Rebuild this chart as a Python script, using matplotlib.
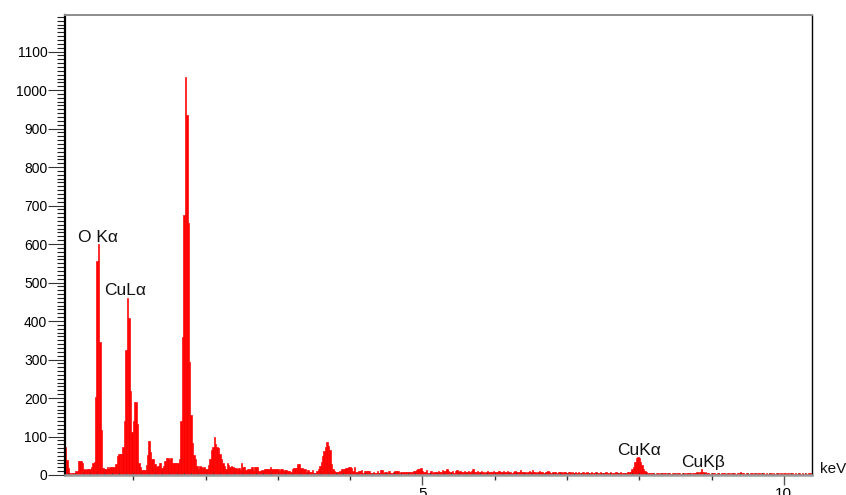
import numpy as np
import matplotlib
matplotlib.use("Agg")
import matplotlib.pyplot as plt
from matplotlib.ticker import MultipleLocator, FixedLocator, NullFormatter

plt.rcParams['font.family'] = ['Liberation Sans', 'DejaVu Sans']

# EDS spectrum, 0.02 keV channels starting at 0.06 keV (counts)
start_kev = 0.06
step_kev = 0.02

counts_0 = [74, 40, 17, 5, 4, 5, 6, 10, 11, 37,
            37, 36, 30, 15, 14, 15, 16, 16, 20, 32,
            33, 203, 556, 599, 346, 117, 17, 15, 15, 20,
            15, 20, 20, 20, 20, 29, 49, 55, 55, 55,
            74, 139, 325, 460, 407, 218, 113, 139, 189, 189]
counts_1 = [132, 32, 20, 13, 13, 13, 26, 52, 88, 60,
            41, 41, 29, 20, 23, 30, 30, 17, 23, 36,
            43, 43, 39, 43, 32, 30, 30, 30, 30, 41,
            139, 359, 675, 1035, 935, 655, 294, 156, 82, 52,
            41, 23, 15, 23, 20, 17, 20, 15, 15, 26]
counts_2 = [41, 65, 74, 98, 80, 74, 69, 55, 41, 32,
            23, 15, 30, 25, 20, 23, 20, 17, 17, 15,
            17, 13, 32, 20, 20, 13, 16, 16, 16, 20,
            11, 20, 20, 20, 11, 11, 13, 13, 15, 15,
            15, 15, 20, 15, 15, 15, 15, 15, 10, 15]
counts_3 = [15, 11, 13, 13, 11, 11, 9, 15, 17, 17,
            17, 29, 29, 17, 17, 15, 15, 9, 13, 9,
            9, 13, 6, 6, 11, 15, 23, 35, 49, 62,
            74, 86, 75, 65, 29, 15, 11, 9, 9, 9,
            11, 15, 15, 16, 18, 18, 20, 20, 18, 11]
counts_4 = [20, 9, 9, 11, 11, 13, 6, 10, 10, 10,
            10, 6, 6, 9, 6, 6, 11, 6, 13, 13,
            6, 9, 9, 6, 11, 6, 6, 9, 10, 10,
            10, 6, 9, 9, 9, 9, 9, 9, 9, 9,
            9, 10, 10, 13, 15, 15, 19, 11, 9, 9]
counts_5 = [13, 6, 6, 11, 6, 9, 9, 9, 11, 9,
            9, 13, 11, 11, 15, 11, 9, 9, 11, 6,
            11, 13, 8, 10, 9, 7, 11, 9, 8, 10,
            9, 11, 15, 9, 7, 10, 8, 9, 11, 8,
            6, 9, 10, 7, 9, 8, 11, 7, 9, 8]
counts_6 = [10, 7, 8, 11, 9, 7, 10, 8, 9, 6,
            8, 10, 7, 9, 8, 12, 7, 9, 8, 6,
            9, 10, 8, 13, 7, 9, 6, 8, 10, 7,
            9, 6, 8, 7, 10, 8, 6, 9, 7, 8,
            6, 9, 7, 8, 6, 9, 7, 6, 8, 7]
counts_7 = [6, 8, 5, 7, 6, 8, 5, 6, 7, 5,
            6, 8, 5, 6, 7, 5, 6, 9, 6, 5,
            7, 6, 5, 6, 7, 5, 6, 8, 5, 6,
            5, 7, 6, 5, 7, 6, 6, 6, 6, 8,
            9, 9, 15, 22, 35, 43, 48, 43, 35, 26]
counts_8 = [15, 11, 8, 6, 5, 4, 5, 4, 3, 5,
            4, 3, 5, 4, 6, 4, 3, 5, 4, 3,
            4, 5, 3, 4, 6, 4, 3, 5, 4, 3,
            4, 5, 4, 3, 4, 6, 5, 9, 6, 8,
            15, 7, 5, 9, 4, 5, 3, 4, 5, 4]
counts_9 = [3, 5, 4, 3, 4, 5, 4, 3, 5, 4,
            3, 4, 6, 4, 3, 5, 4, 7, 5, 4,
            3, 4, 5, 3, 4, 5, 3, 4, 3, 5,
            4, 3, 4, 5, 3, 4, 3, 5, 4, 3,
            4, 3, 5, 4, 3, 4, 3, 5, 4, 3]
counts_10 = [4, 3, 5, 4, 3, 4, 3, 4, 5, 3, 4, 3, 4, 3, 5, 4, 3]

peak_labels = ["O K\u03b1", "CuL\u03b1", "CuK\u03b1", "CuK\u03b2"]
label_kev = [0.235, 0.60, 7.70, 8.58]
label_counts = [605, 468, 52, 21]

counts = np.array(counts_0 + counts_1 + counts_2 + counts_3 + counts_4 + counts_5
                  + counts_6 + counts_7 + counts_8 + counts_9 + counts_10)
energy = start_kev + step_kev * np.arange(len(counts))

fig = plt.figure(figsize=(8.46, 4.95), dpi=100)
ax = fig.add_axes([65 / 846, 20 / 495, 747 / 846, 460 / 495])

ax.bar(energy, counts, width=step_kev, color='#ff0000', edgecolor='#ff0000',
       linewidth=0.45, align='center')

ax.set_xlim(0.055, 10.39)
ax.set_ylim(0, 1195)

# spines
ax.spines['left'].set_color('#000000')
ax.spines['left'].set_linewidth(1.6)
ax.spines['right'].set_color('#000000')
ax.spines['right'].set_linewidth(1.0)
ax.spines['top'].set_color('#8c8c8c')
ax.spines['top'].set_linewidth(1.4)
ax.spines['bottom'].set_color('#9a9a9a')
ax.spines['bottom'].set_linewidth(1.8)

# y ticks
ax.yaxis.set_minor_locator(MultipleLocator(10))
ax.set_yticks(np.arange(0, 1101, 100))
ax.tick_params(axis='y', which='major', direction='out', length=12.2, width=0.8,
               color='#333333', pad=0.5, labelsize=10)
ax.tick_params(axis='y', which='minor', direction='out', length=5.8, width=0.8,
               color='#222222')

# x ticks: labelled at 5 and 10, small inward ticks every 0.1 keV
ax.xaxis.set_major_locator(FixedLocator([5, 10]))
ax.xaxis.set_minor_locator(MultipleLocator(0.1))
ax.xaxis.set_minor_formatter(NullFormatter())
ax.tick_params(axis='x', which='major', direction='out', length=7.2, width=1.0,
               color='#555555', pad=1.5, labelsize=11)
ax.tick_params(axis='x', which='minor', direction='in', length=1.5, width=0.8,
               color='#333333')

# 1 keV ticks below the axis
sec = ax.secondary_xaxis('bottom')
sec.xaxis.set_major_locator(FixedLocator([1, 2, 3, 4, 6, 7, 8, 9]))
sec.xaxis.set_major_formatter(NullFormatter())
sec.tick_params(axis='x', which='major', direction='out', length=3.6, width=1.0,
                color='#333333')
sec.spines['bottom'].set_visible(False)

for lab, xk, yc in zip(peak_labels, label_kev, label_counts):
    ax.text(xk, yc, lab, fontsize=12.5, ha='left', va='baseline', color='#111111')

ax.text(1.0107, 0.004, "keV", transform=ax.transAxes, fontsize=11,
        ha='left', va='baseline', clip_on=False, color='#111111')

fig.savefig("out.png", dpi=100)
